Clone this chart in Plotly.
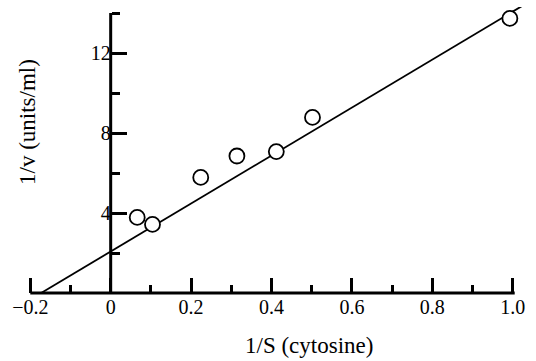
import plotly.graph_objects as go

# Data (Lineweaver-Burk plot)
inv_s = [0.066, 0.104, 0.224, 0.314, 0.412, 0.502, 0.993]
inv_v = [3.78, 3.43, 5.78, 6.85, 7.07, 8.78, 13.73]

fit_x = [-0.173, 1.03]
fit_y = [0.0, 14.43]

x_major = [-0.2, 0, 0.2, 0.4, 0.6, 0.8, 1.0]
x_major_text = ["\u22120.2", "0", "0.2", "0.4", "0.6", "0.8", "1.0"]
x_minor = [-0.1, 0.1, 0.3, 0.5, 0.7, 0.9]
y_major = [4, 8, 12]
y_major_text = ["4", "8", "12"]
y_minor = [2, 6, 10, 14]

XR = [-0.2206, 1.0505]
YR = [-0.4, 14.3]

font = dict(family="Liberation Serif, Times New Roman, serif", size=20, color="black")
title_font = dict(family="Liberation Serif, Times New Roman, serif", size=23, color="black")

fig = go.Figure()
fig.add_trace(go.Scatter(x=fit_x, y=fit_y, mode="lines",
                         line=dict(color="black", width=1.8),
                         showlegend=False, hoverinfo="skip"))
fig.add_trace(go.Scatter(x=inv_s, y=inv_v, mode="markers",
                         marker=dict(symbol="circle", size=15, color="white",
                                     line=dict(color="black", width=1.8)),
                         cliponaxis=False, showlegend=False))

# axis lines
fig.add_shape(type="line", xref="x", yref="y", x0=x_major[0], x1=1.005, y0=0, y1=0,
              line=dict(color="black", width=3))
fig.add_shape(type="line", xref="x", yref="y", x0=0, x1=0, y0=0, y1=y_minor[-1],
              line=dict(color="black", width=3))

xpos = (0 - YR[0]) / (YR[1] - YR[0])
ypos = (0 - XR[0]) / (XR[1] - XR[0])

fig.update_layout(
    width=536, height=361,
    margin=dict(l=22, r=3, t=7, b=60),
    paper_bgcolor="white", plot_bgcolor="white",
    font=font,
    xaxis=dict(range=XR, anchor="free", position=xpos,
               tickmode="array", tickvals=x_major, ticktext=x_major_text,
               ticks="inside", ticklen=15, tickwidth=3, tickcolor="black",
               minor=dict(tickmode="array", tickvals=x_minor, ticks="inside",
                          ticklen=8, tickwidth=3, tickcolor="black"),
               showgrid=False, zeroline=False, showline=False,
               tickfont=font, automargin=False),
    yaxis=dict(range=YR, anchor="free", position=ypos,
               tickmode="array", tickvals=y_major, ticktext=y_major_text,
               ticks="inside", ticklen=15, tickwidth=3, tickcolor="black",
               minor=dict(tickmode="array", tickvals=y_minor, ticks="inside",
                          ticklen=8, tickwidth=3, tickcolor="black"),
               showgrid=False, zeroline=False, showline=False,
               tickfont=font, automargin=False),
    annotations=[
        dict(text="1/S (cytosine)", xref="paper", yref="paper",
             x=(309 - 22) / 511, y=-(345 - 301) / 294, xanchor="center", yanchor="middle",
             showarrow=False, font=title_font),
        dict(text="1/v (units/ml)", xref="paper", yref="paper",
             x=-(22 - 27) / 511, y=(301 - 122) / 294, xanchor="center", yanchor="middle",
             textangle=-90, showarrow=False, font=title_font),
    ],
)

fig.write_html("out.html", config={"displayModeBar": False},
               post_script="document.body.style.margin='0';document.body.style.overflow='hidden';")
